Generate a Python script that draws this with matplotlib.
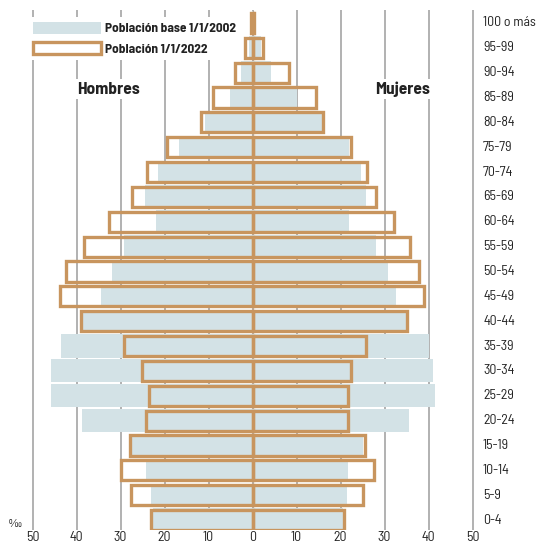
"""Pirámide de población: base 1/1/2002 frente a 1/1/2022 (por mil)."""

import matplotlib
matplotlib.use("Agg")
import matplotlib.pyplot as plt
from matplotlib.patches import Patch
from matplotlib import font_manager

names = {f.name for f in font_manager.fontManager.ttflist}
FAMILY = [f for f in ["Liberation Sans Narrow", "Barlow Semi Condensed", "Asap Condensed",
                      "Liberation Sans", "DejaVu Sans"] if f in names]
plt.rcParams["font.family"] = FAMILY

ages = ["0-4", "5-9", "10-14", "15-19", "20-24", "25-29", "30-34", "35-39",
        "40-44", "45-49", "50-54", "55-59", "60-64", "65-69", "70-74",
        "75-79", "80-84", "85-89", "90-94", "95-99", "100 o más"]

men_2002 = [22.7, 23.0, 24.2, 27.5, 38.7, 45.9, 45.9, 43.6, 38.6, 34.5, 32.0,
            29.3, 22.0, 24.5, 21.5, 16.8, 10.9, 5.2, 2.6, 0.9, 0.1]
men_2022 = [23.1, 27.6, 29.9, 27.8, 24.2, 23.6, 25.2, 29.3, 39.0, 43.7, 42.4,
            38.4, 32.7, 27.5, 23.9, 19.4, 11.7, 8.9, 4.0, 1.6, 0.3]
women_2002 = [20.5, 21.4, 21.8, 25.0, 35.5, 41.5, 41.0, 40.0, 34.9, 32.7, 30.8,
              28.1, 22.0, 25.8, 24.7, 22.0, 15.8, 10.1, 4.3, 2.0, 0.2]
women_2022 = [20.9, 25.2, 27.6, 25.6, 21.6, 21.6, 22.3, 25.9, 35.2, 38.9, 37.8,
              35.8, 32.2, 28.0, 26.1, 22.3, 16.1, 14.5, 8.3, 2.3, 0.4]

xticks = [-50, -40, -30, -20, -10, 0, 10, 20, 30, 40, 50]

BLUE = "#d3e2e6"
TAN = "#c8955e"
GRID = "#a4a4a4"
TXT = "#222222"

W, H = 538, 546
fig = plt.figure(figsize=(W / 100, H / 100), dpi=100)
ax = fig.add_axes([0, 16 / H, 1, 520 / H])

y = list(range(len(ages)))
ax.barh(y, [-v for v in men_2002], height=0.93, color=BLUE, lw=0, zorder=2)
ax.barh(y, women_2002, height=0.93, color=BLUE, lw=0, zorder=2)
ax.barh(y, [-v for v in men_2022], height=0.81, fill=False, edgecolor=TAN, lw=2.4, zorder=3)
ax.barh(y, women_2022, height=0.81, fill=False, edgecolor=TAN, lw=2.4, zorder=3)

ax.set_xlim(-252.5 / 4.4, (W - 252.5) / 4.4)
ax.set_ylim(-0.402, 20.523)
ax.set_xticks(xticks)
ax.set_xticklabels([str(abs(t)) for t in xticks])
ax.set_yticks([])
ax.set_axisbelow(True)
ax.grid(True, axis="x", color=GRID, lw=1.2)
ax.tick_params(axis="x", length=0, pad=0.5, labelsize=10, labelcolor=TXT)
for s in ax.spines.values():
    s.set_visible(False)

for i, lab in enumerate(ages):
    ax.text(52.4, i, lab, ha="left", va="center", fontsize=10, color=TXT, clip_on=False)

box = dict(boxstyle="square,pad=0.15", fc="white", ec="none")
ax.text(-32.8, 17.34, "Hombres", ha="center", va="center", fontsize=12.5,
        fontweight="bold", color=TXT, bbox=box, zorder=1.5)
ax.text(34.2, 17.34, "Mujeres", ha="center", va="center", fontsize=12.5,
        fontweight="bold", color=TXT, bbox=box, zorder=1.5)

handles = [Patch(facecolor=BLUE, edgecolor="none"),
           Patch(facecolor="white", edgecolor=TAN, lw=2.4)]
leg = ax.legend(handles, ["Población base 1/1/2002", "Población 1/1/2022"],
                loc="upper left", bbox_to_anchor=(28 / W, 1 - 17 / H),
                bbox_transform=fig.transFigure, frameon=True, fancybox=False,
                framealpha=1, edgecolor="none", facecolor="white",
                borderpad=0.35, handlelength=5.1, handleheight=1.0,
                handletextpad=0.35, labelspacing=0.62, borderaxespad=0,
                prop={"weight": "bold", "size": 9.6})
for t in leg.get_texts():
    t.set_color(TXT)
leg.set_zorder(1.5)

fig.text(15 / W, 1 - 524 / H, "‰", ha="center", va="center", fontsize=8.5, color=TXT)

fig.savefig("out.png", dpi=100)
